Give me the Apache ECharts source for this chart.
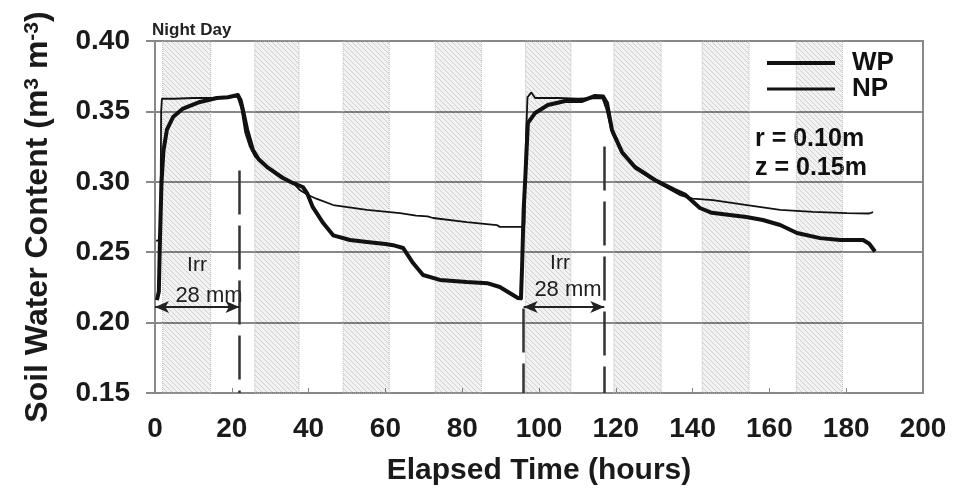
<!DOCTYPE html>
<html>
<head>
<meta charset="utf-8">
<script src="https://cdn.jsdelivr.net/npm/echarts@6/dist/echarts.min.js"></script>
<style>
  html, body { margin: 0; padding: 0; background: #fff; }
  #chart { width: 953px; height: 497px; }
</style>
</head>
<body>
<div id="chart"></div>
<script>
// soil water content, WP (thick) and NP (thin)
var wpHours = [0.5, 1.0, 1.3, 1.7, 2.2, 3.1, 4.7, 7.3, 11.7, 16.1, 19, 21.6, 22.3, 22.9, 24, 25.5, 27, 29.2, 33.3, 36, 38.5, 39.6,
  41.1, 43.8, 46.4, 50.8, 55.2, 60, 62, 64.6, 67.2, 69.8, 74.2, 81.2, 86.5, 89.8, 94.5, 95.3,
  95.6, 96.0, 96.4, 97.1, 99, 102.3, 106.8, 111.2, 114.6, 116.7, 117.7, 119, 121.6, 125, 130.2, 135.4, 138,
  141.9, 145, 149.7, 154, 158.3, 162.8, 167.2, 173.2, 178.4, 184.4, 186, 187.5];
var wpValues = [0.216, 0.222, 0.26, 0.30, 0.322, 0.337, 0.346, 0.352, 0.3567, 0.3595, 0.360, 0.3616, 0.358, 0.351, 0.337, 0.3226, 0.316, 0.3105, 0.3027, 0.299, 0.2963, 0.292,
  0.282, 0.2707, 0.262, 0.2587, 0.2573, 0.2558, 0.255, 0.253, 0.2423, 0.2338, 0.2303, 0.2288, 0.228, 0.2253, 0.2175, 0.2172,
  0.24, 0.28, 0.301, 0.3417, 0.3489, 0.3545, 0.3574, 0.3574, 0.361, 0.3605, 0.356, 0.3368, 0.3212, 0.3105, 0.3013, 0.2942, 0.291,
  0.2814, 0.278, 0.2764, 0.275, 0.2729, 0.2693, 0.2636, 0.260, 0.2587, 0.2587, 0.256, 0.2505];

var npHours = [0.3, 1.4, 1.6, 1.8, 5, 10, 15, 19, 21.5, 22.5, 23.5, 24.7, 26, 28.1, 33.3, 36, 37.8, 39.6, 42, 46.4, 55.2, 63.8, 68, 71, 72.4,
  81.2, 89, 89.8, 95.5, 96.2, 96.6, 97.0, 98, 99, 105, 110, 116.5, 117.5, 119, 121.6, 125, 130.2, 136.7, 140, 145.3, 154.2, 162.8,
  171.4, 180.2, 186, 187];
var npValues = [0.258, 0.259, 0.35, 0.359, 0.359, 0.3595, 0.3595, 0.360, 0.3605, 0.352, 0.335, 0.325, 0.318, 0.313, 0.3034, 0.299, 0.294, 0.291, 0.288, 0.2835, 0.280, 0.2778, 0.276, 0.2755, 0.2743,
  0.2714, 0.2693, 0.268, 0.268, 0.27, 0.33, 0.36, 0.3635, 0.3595, 0.3595, 0.359, 0.3595, 0.352, 0.335, 0.32, 0.3095, 0.3005, 0.2906, 0.288, 0.287, 0.2835, 0.280,
  0.2786, 0.2778, 0.2775, 0.2785];

// night periods (hatched bands)
var nightStart = [2, 26, 49, 73, 96.5, 119.5, 142.5, 167];
var nightEnd = [14.5, 37.5, 61, 85, 108.3, 131.8, 154.7, 179];

// irrigation markers
var dashX = [22, 96, 117];
var dashTop = [0.308, 0.21, 0.325];
var arrowFrom = [0, 96];
var arrowTo = [22, 117];
var arrowY = 0.211;

var yTicks = [0.15, 0.20, 0.25, 0.30, 0.35, 0.40];

function pairs(xs, ys) {
  var out = [];
  for (var i = 0; i < xs.length; i++) out.push([xs[i], ys[i]]);
  return out;
}

// hatch pattern for night bands
var hatch = document.createElement('canvas');
hatch.width = 5;
hatch.height = 5;
var hc = hatch.getContext('2d');
hc.fillStyle = 'rgba(0,0,0,0.05)';
hc.fillRect(0, 0, 5, 5);
hc.strokeStyle = 'rgba(0,0,0,0.14)';
hc.lineWidth = 1;
hc.beginPath();
hc.moveTo(0, 0); hc.lineTo(5, 5);
hc.moveTo(-1, 4); hc.lineTo(1, 6);
hc.moveTo(4, -1); hc.lineTo(6, 1);
hc.stroke();

var bands = [];
for (var i = 0; i < nightStart.length; i++) {
  bands.push([{ xAxis: nightStart[i] }, { xAxis: nightEnd[i] }]);
}
var dashes = [];
for (var i = 0; i < dashX.length; i++) {
  dashes.push([{ coord: [dashX[i], dashTop[i]] }, { coord: [dashX[i], yTicks[0]] }]);
}
var arrows = [];
for (var i = 0; i < arrowFrom.length; i++) {
  arrows.push([{ coord: [arrowFrom[i], arrowY] }, { coord: [arrowTo[i], arrowY] }]);
}

var font = '"Liberation Sans", Arial, sans-serif';
var chart = echarts.init(document.getElementById('chart'));

chart.setOption({
  animation: false,
  backgroundColor: '#fff',
  grid: {
    left: 155, right: 30, top: 41, bottom: 104,
    show: true, borderColor: '#888', borderWidth: 2, backgroundColor: 'transparent'
  },
  legend: {
    orient: 'vertical',
    left: 760, top: 45,
    itemWidth: 68, itemHeight: 16, itemGap: 0,
    itemStyle: { opacity: 0 },
    data: [
      { name: 'WP', lineStyle: { width: 4 } },
      { name: 'NP', lineStyle: { width: 3 } }
    ],
    textStyle: { fontFamily: font, fontWeight: 'bold', fontSize: 26, color: '#111', padding: [0, 0, 0, 12] }
  },
  xAxis: {
    type: 'value', min: 0, max: 200, interval: 20,
    name: 'Elapsed Time (hours)', nameLocation: 'middle', nameGap: 63,
    nameTextStyle: { fontFamily: font, fontWeight: 'bold', fontSize: 30, color: '#1a1a1a' },
    axisLine: { lineStyle: { color: '#888', width: 2 } },
    axisTick: { inside: true, length: 5, lineStyle: { color: '#888' } },
    axisLabel: { fontFamily: font, fontWeight: 'bold', fontSize: 28, color: '#1a1a1a', margin: 22 },
    splitLine: { show: false }
  },
  yAxis: {
    type: 'value', min: 0.15, max: 0.40, interval: 0.05,
    name: 'Soil Water Content (m{sup|3} m{sup|-3})', nameLocation: 'middle', nameGap: 100, nameRotate: 90,
    nameTextStyle: {
      fontFamily: font, fontWeight: 'bold', fontSize: 32, color: '#1a1a1a',
      rich: { sup: { fontFamily: font, fontWeight: 'bold', fontSize: 21, color: '#1a1a1a', verticalAlign: 'top', padding: [0, 0, 12, 0] } }
    },
    axisLine: { show: true, lineStyle: { color: '#888', width: 2 } },
    axisTick: { show: true, length: 9, lineStyle: { color: '#888', width: 2 } },
    axisLabel: { fontFamily: font, fontWeight: 'bold', fontSize: 28, color: '#1a1a1a', margin: 25, formatter: function (v) { return v.toFixed(2); } },
    splitLine: { lineStyle: { color: '#888', width: 2 } }
  },
  series: [
    {
      name: 'night', type: 'line', data: [], z: -1, silent: true,
      markArea: {
        silent: true,
        itemStyle: { color: { image: hatch, repeat: 'repeat' }, borderColor: '#bbb', borderWidth: 1, borderType: 'dotted' },
        data: bands
      }
    },
    {
      name: 'irrigation', type: 'line', data: [], z: 4, silent: true,
      markLine: {
        silent: true, symbol: ['none', 'none'], label: { show: false },
        lineStyle: { color: '#333', width: 2.5, type: [44, 11] },
        data: dashes
      }
    },
    {
      name: 'arrows', type: 'line', data: [], z: 4, silent: true,
      markLine: {
        silent: true, symbol: ['arrow', 'arrow'], symbolSize: [9, 14], label: { show: false },
        lineStyle: { color: '#222', width: 2, type: 'solid' },
        data: arrows
      }
    },
    {
      name: 'WP', type: 'line', data: pairs(wpHours, wpValues), z: 3,
      showSymbol: false, symbol: 'none', color: '#111',
      lineStyle: { color: '#111', width: 4, join: 'round' }
    },
    {
      name: 'NP', type: 'line', data: pairs(npHours, npValues), z: 3,
      showSymbol: false, symbol: 'none', color: '#111',
      lineStyle: { color: '#111', width: 1.8 }
    }
  ],
  graphic: [
    { type: 'text', left: 152, top: 22, style: { text: 'Night Day', fontFamily: font, fontWeight: 'bold', fontSize: 17, fill: '#222' } },
    { type: 'text', left: 755, top: 127, style: { text: 'r = 0.10m', fontFamily: font, fontWeight: 'bold', fontSize: 25, fill: '#111' } },
    { type: 'text', left: 755, top: 156, style: { text: 'z = 0.15m', fontFamily: font, fontWeight: 'bold', fontSize: 25, fill: '#111' } },
    { type: 'text', x: 197, y: 265, style: { text: 'Irr', fontFamily: font, fontSize: 21, fill: '#222', align: 'center', verticalAlign: 'middle' } },
    { type: 'text', x: 209, y: 296, style: { text: '28 mm', fontFamily: font, fontSize: 22, fill: '#222', align: 'center', verticalAlign: 'middle' } },
    { type: 'text', x: 560, y: 263, style: { text: 'Irr', fontFamily: font, fontSize: 21, fill: '#222', align: 'center', verticalAlign: 'middle' } },
    { type: 'text', x: 568, y: 290, style: { text: '28 mm', fontFamily: font, fontSize: 22, fill: '#222', align: 'center', verticalAlign: 'middle' } }
  ]
});
</script>
</body>
</html>
